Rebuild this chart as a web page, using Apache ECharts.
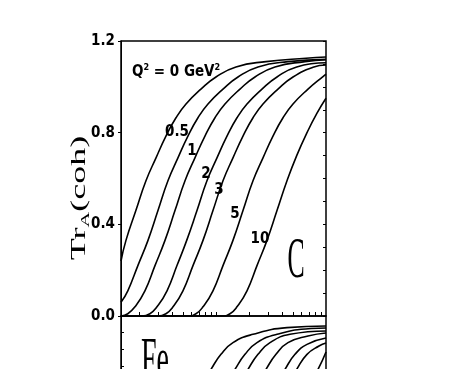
<!DOCTYPE html>
<html>
<head>
<meta charset="utf-8">
<script src="https://cdn.jsdelivr.net/npm/echarts@6/dist/echarts.min.js"></script>
<style>
  html, body { margin: 0; padding: 0; background: #fff; }
  #chart { width: 467px; height: 369px; }
</style>
</head>
<body>
<div id="chart"></div>
<script>
// --- data (x is on a log scale) ---
const xMin = 0.137
const xMax = 10
const xTickValues = [0.2, 0.3, 0.4, 0.5, 0.6, 0.7, 0.8, 0.9, 1, 2, 3, 4, 5, 6, 7, 8, 9]

// C panel, one curve per Q^2
const cQ0 = [[0.137, 0.24], [0.152, 0.33], [0.187, 0.46], [0.231, 0.59], [0.285, 0.69], [0.351, 0.785], [0.433, 0.865], [0.534, 0.925], [0.730, 0.99], [1.0, 1.043], [1.52, 1.087], [2.85, 1.11], [6.58, 1.125], [10, 1.13]]
const cQ05 = [[0.137, 0.06], [0.158, 0.11], [0.195, 0.22], [0.241, 0.33], [0.297, 0.46], [0.366, 0.59], [0.451, 0.69], [0.556, 0.785], [0.686, 0.865], [0.846, 0.925], [1.158, 0.99], [1.585, 1.043], [2.409, 1.087], [4.514, 1.11], [10, 1.12]]
const cQ1 = [[0.137, 0.0], [0.158, 0.01], [0.1835, 0.04], [0.226, 0.11], [0.279, 0.22], [0.344, 0.33], [0.424, 0.46], [0.523, 0.59], [0.644, 0.69], [0.794, 0.785], [0.979, 0.865], [1.207, 0.925], [1.653, 0.99], [2.262, 1.043], [3.438, 1.087], [6.443, 1.11], [10, 1.118]]
const cQ2 = [[0.137, 0.0], [0.212, 0.0], [0.251, 0.01], [0.291, 0.04], [0.359, 0.11], [0.442, 0.22], [0.542, 0.33], [0.672, 0.46], [0.828, 0.59], [1.021, 0.69], [1.259, 0.785], [1.552, 0.865], [1.914, 0.925], [2.619, 0.99], [3.586, 1.043], [5.416, 1.087], [10, 1.105]]
const cQ3 = [[0.137, 0.0], [0.297, 0.0], [0.351, 0.01], [0.407, 0.04], [0.501, 0.11], [0.618, 0.22], [0.762, 0.33], [0.939, 0.46], [1.158, 0.59], [1.427, 0.69], [1.760, 0.785], [2.170, 0.865], [2.675, 0.925], [3.661, 0.99], [5.012, 1.043], [7.618, 1.085], [10, 1.095]]
const cQ5 = [[0.137, 0.0], [0.556, 0.0], [0.658, 0.01], [0.762, 0.04], [0.939, 0.11], [1.158, 0.22], [1.427, 0.33], [1.760, 0.46], [2.170, 0.59], [2.675, 0.69], [3.297, 0.785], [4.066, 0.865], [5.012, 0.925], [6.861, 0.99], [9.391, 1.045], [10, 1.055]]
const cQ10 = [[0.137, 0.0], [1.134, 0.0], [1.341, 0.01], [1.552, 0.04], [1.914, 0.11], [2.359, 0.22], [2.908, 0.33], [3.586, 0.46], [4.420, 0.59], [5.416, 0.70], [6.718, 0.80], [8.283, 0.885], [10, 0.95]]

// curve tags in the C panel
const tagNames = ['0.5', '1', '2', '3', '5', '10']
const tagX = [0.442, 0.605, 0.811, 1.065, 1.488, 2.512]
const tagY = [0.803, 0.72, 0.62, 0.55, 0.445, 0.336]

// Fe panel (only its top part is in view)
const feA = [[0.390, 0.40], [0.593, 0.66], [0.731, 0.78], [0.901, 0.88], [1.110, 0.97], [1.427, 1.04], [2.170, 1.09], [4.420, 1.13], [10, 1.14]]
const feB = [[0.644, 0.40], [0.979, 0.66], [1.207, 0.78], [1.488, 0.88], [1.835, 0.97], [2.359, 1.04], [3.586, 1.09], [7.305, 1.125], [10, 1.128]]
const feC = [[0.846, 0.40], [1.286, 0.66], [1.585, 0.78], [1.954, 0.88], [2.409, 0.97], [3.097, 1.04], [4.707, 1.09], [10, 1.11]]
const feD = [[1.233, 0.40], [1.874, 0.66], [2.310, 0.78], [2.848, 0.88], [3.511, 0.97], [4.514, 1.04], [6.861, 1.08], [10, 1.098]]
const feE = [[1.835, 0.40], [2.789, 0.66], [3.438, 0.78], [4.239, 0.88], [5.226, 0.97], [6.718, 1.03], [10, 1.068]]
const feF = [[2.359, 0.40], [3.586, 0.66], [4.420, 0.78], [5.416, 0.88], [6.718, 0.97], [8.637, 1.02], [10, 1.038]]
const feG = [[3.661, 0.40], [5.565, 0.66], [6.861, 0.78], [8.458, 0.88], [10, 0.984]]

// --- chart ---
const lg = (v) => Math.log10(v)
const toLog = (pts) => pts.map((p) => [lg(p[0]), p[1]])

const narrow = "'Liberation Sans Narrow','DejaVu Sans Condensed','Liberation Sans',sans-serif"
const serif = "'Liberation Serif','DejaVu Serif',serif"

const curve = (data, xi, yi) => ({
  type: 'line',
  xAxisIndex: xi,
  yAxisIndex: yi,
  data: toLog(data),
  showSymbol: false,
  smooth: 0.5,
  lineStyle: { color: '#000', width: 1.6 },
  silent: true,
})

const hiddenX = (gi) => ({
  gridIndex: gi,
  type: 'value',
  min: lg(xMin),
  max: lg(xMax),
  axisLine: { show: false },
  axisTick: { show: false },
  axisLabel: { show: false },
  splitLine: { show: false },
})

const chart = echarts.init(document.getElementById('chart'))

chart.setOption({
  animation: false,
  backgroundColor: '#fff',
  grid: [
    { left: 121, top: 41, width: 205, height: 275, outerBoundsMode: 'none', show: true, borderColor: '#000', borderWidth: 1.5 },
    { left: 121, top: 316, width: 205, height: 200, outerBoundsMode: 'none', show: true, borderColor: '#000', borderWidth: 1.5 },
  ],
  xAxis: [
    {
      ...hiddenX(0),
      axisTick: {
        show: true,
        inside: true,
        length: 4,
        customValues: xTickValues.map(lg),
        lineStyle: { color: '#000', width: 1 },
      },
    },
    hiddenX(1),
  ],
  yAxis: [
    {
      gridIndex: 0,
      type: 'value',
      min: 0,
      max: 1.2,
      interval: 0.4,
      axisLine: { show: true, onZero: false, lineStyle: { color: '#000', width: 1 } },
      axisTick: { show: true, inside: false, length: 3, lineStyle: { color: '#000' } },
      axisLabel: {
        margin: 6,
        color: '#000',
        fontFamily: narrow,
        fontWeight: 'bold',
        fontSize: 15,
        formatter: (v) => v.toFixed(1),
      },
      splitLine: { show: false },
    },
    {
      gridIndex: 0,
      type: 'value',
      min: 0,
      max: 1.2,
      interval: 0.1,
      axisLine: { show: false, onZero: false },
      axisTick: { show: true, inside: true, length: 3, lineStyle: { color: '#000' } },
      axisLabel: { show: false },
      splitLine: { show: false },
    },
    {
      gridIndex: 1,
      type: 'value',
      min: 0,
      max: 1.2,
      interval: 0.1,
      axisLine: { show: true, onZero: false, lineStyle: { color: '#000', width: 1 } },
      axisTick: { show: true, inside: true, length: 3, lineStyle: { color: '#000' } },
      axisLabel: { show: false },
      splitLine: { show: false },
    },
  ],
  series: [
    curve(cQ0, 0, 0),
    curve(cQ05, 0, 0),
    curve(cQ1, 0, 0),
    curve(cQ2, 0, 0),
    curve(cQ3, 0, 0),
    curve(cQ5, 0, 0),
    curve(cQ10, 0, 0),
    curve(feA, 1, 2),
    curve(feB, 1, 2),
    curve(feC, 1, 2),
    curve(feD, 1, 2),
    curve(feE, 1, 2),
    curve(feF, 1, 2),
    curve(feG, 1, 2),
    {
      type: 'scatter',
      xAxisIndex: 0,
      yAxisIndex: 0,
      symbolSize: 0,
      silent: true,
      itemStyle: { opacity: 1 },
      data: tagNames.map((n, i) => ({ name: n, value: [lg(tagX[i]), tagY[i]] })),
      label: {
        show: true,
        position: 'inside',
        formatter: '{b}',
        color: '#000',
        opacity: 1,
        textBorderWidth: 0,
        fontFamily: narrow,
        fontWeight: 'bold',
        fontSize: 15,
      },
    },
  ],
  graphic: [
    {
      type: 'text',
      x: 132,
      y: 63,
      silent: true,
      style: {
        text: '{m|Q}{s|2}{m| = 0 GeV}{s|2}',
        fill: '#000',
        rich: {
          m: { fontFamily: narrow, fontWeight: 'bold', fontSize: 15, lineHeight: 18, fill: '#000' },
          s: { fontFamily: narrow, fontWeight: 'bold', fontSize: 9, lineHeight: 18, verticalAlign: 'top', fill: '#000' },
        },
      },
    },
    {
      type: 'text',
      x: 80,
      y: 198,
      rotation: Math.PI / 2,
      scaleX: 1.8,
      silent: true,
      style: {
        text: '{m|Tr}{s|A}{m|(coh)}',
        align: 'center',
        verticalAlign: 'middle',
        fill: '#000',
        rich: {
          m: { fontFamily: serif, fontSize: 20, lineHeight: 24, fill: '#000' },
          s: { fontFamily: serif, fontSize: 12, lineHeight: 24, verticalAlign: 'bottom', fill: '#000' },
        },
      },
    },
    {
      type: 'text',
      x: 296,
      y: 262,
      scaleX: 0.46,
      silent: true,
      style: { text: 'C', font: '56px ' + serif, fill: '#000', align: 'center', verticalAlign: 'middle' },
    },
    {
      type: 'text',
      x: 155,
      y: 362,
      scaleX: 0.5,
      silent: true,
      style: { text: 'Fe', font: '56px ' + serif, fill: '#000', align: 'center', verticalAlign: 'middle' },
    },
  ],
})
</script>
</body>
</html>
